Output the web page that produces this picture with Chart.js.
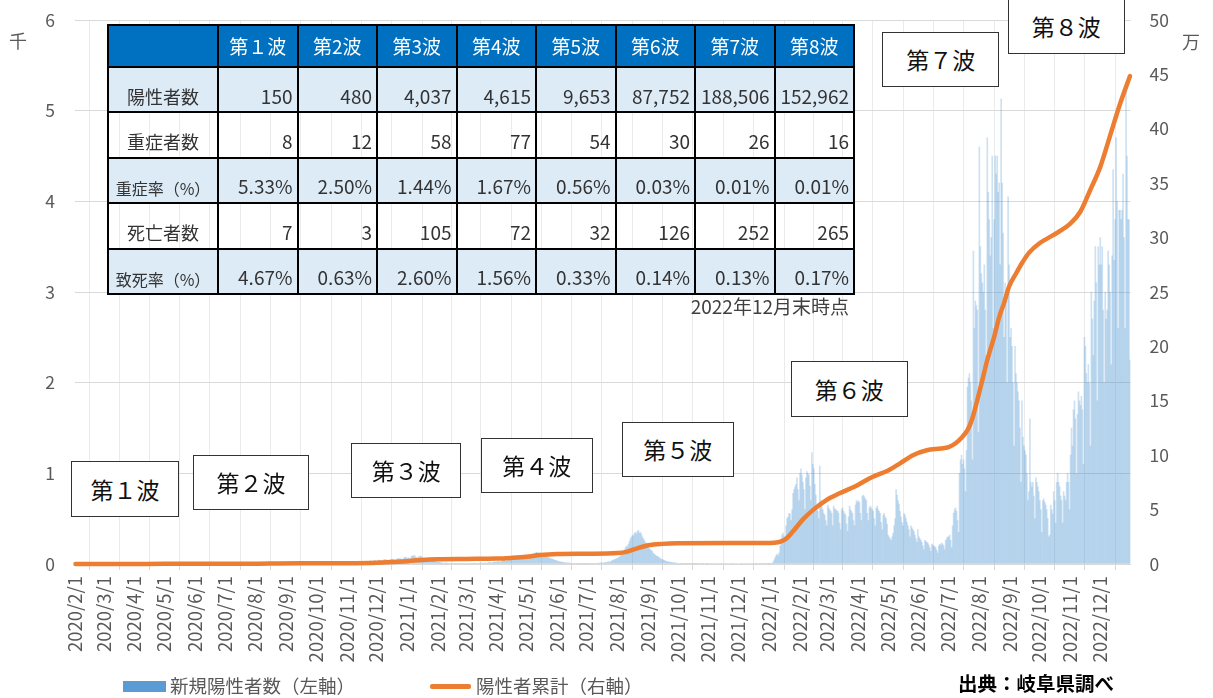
<!DOCTYPE html>
<html lang="ja"><head><meta charset="utf-8">
<script src="https://cdn.jsdelivr.net/npm/chart.js@4.4.1/dist/chart.umd.min.js"></script>
<style>
html,body{margin:0;padding:0;background:#fff;}
#wrap{position:relative;width:1213px;height:698px;overflow:hidden;font-family:'Noto Sans CJK JP','Noto Sans',sans-serif;}
#c{position:absolute;left:0;top:0;}
table.t{position:absolute;left:107px;top:24px;border-collapse:collapse;table-layout:fixed;width:747px;}
table.t td,table.t th{border:2px solid #000;padding:0 4px 3px 0;font-size:19px;font-weight:normal;color:#333;text-align:right;vertical-align:bottom;white-space:nowrap;overflow:hidden;line-height:1.3;}
table.t th{background:#0070C0;color:#fff;text-align:center;vertical-align:middle;padding:0;height:40px;}
table.t tr.b td{background:#DDEBF7;}
table.t td{height:40.4px;}
table.t td.h{text-align:center;font-size:18px;padding-right:0;}
table.t td.h.s{font-size:16px;}
.note{position:absolute;right:364px;top:296px;font-size:19px;color:#404040;line-height:1.1;}
.wave{position:absolute;box-sizing:border-box;border:1.5px solid #333;background:#fff;font-size:23px;color:#111;display:flex;align-items:center;justify-content:center;}
.unit{position:absolute;font-size:18px;color:#595959;line-height:1;}
.lg{position:absolute;font-size:18.5px;color:#595959;line-height:1;}
.src{position:absolute;left:958px;top:673px;font-size:19.5px;font-weight:bold;color:#000;line-height:1;}
</style></head>
<body><div id="wrap">
<canvas id="c" width="1213" height="698"></canvas>
<div class="unit" style="left:9px;top:31px;">千</div>
<div class="unit" style="left:1182px;top:32px;">万</div>
<table class="t" id="tbl"></table>
<div class="note">2022年12月末時点</div>
<div id="waves"></div>
<div style="position:absolute;left:123px;top:681px;width:43px;height:11px;background:#5B9BD5;"></div>
<div class="lg" style="left:170px;top:676px;">新規陽性者数（左軸）</div>
<div style="position:absolute;left:430px;top:684px;width:41px;height:4.5px;background:#ED7D31;border-radius:2px;"></div>
<div class="lg" style="left:476px;top:676px;">陽性者累計（右軸）</div>
<div class="src">出典：岐阜県調べ</div>
</div>
<script>
// ---- table data ----
const waveNames = ['第１波','第2波','第3波','第4波','第5波','第6波','第7波','第8波'];
const rowLabels = ['陽性者数','重症者数','重症率（%）','死亡者数','致死率（%）'];
const positives = ['150','480','4,037','4,615','9,653','87,752','188,506','152,962'];
const severe = ['8','12','58','77','54','30','26','16'];
const severeRate = ['5.33%','2.50%','1.44%','1.67%','0.56%','0.03%','0.01%','0.01%'];
const deaths = ['7','3','105','72','32','126','252','265'];
const deathRate = ['4.67%','0.63%','2.60%','1.56%','0.33%','0.14%','0.13%','0.17%'];
const waveBoxLabels = ['第１波','第２波','第３波','第４波','第５波','第６波','第７波','第８波'];

// ---- x axis tick labels ----
const monthLabels = ['2020/2/1','2020/3/1','2020/4/1','2020/5/1','2020/6/1','2020/7/1','2020/8/1','2020/9/1','2020/10/1','2020/11/1','2020/12/1',
 '2021/1/1','2021/2/1','2021/3/1','2021/4/1','2021/5/1','2021/6/1','2021/7/1','2021/8/1','2021/9/1','2021/10/1','2021/11/1','2021/12/1',
 '2022/1/1','2022/2/1','2022/3/1','2022/4/1','2022/5/1','2022/6/1','2022/7/1','2022/8/1','2022/9/1','2022/10/1','2022/11/1','2022/12/1'];
const axisEnd = '2023/1/1';

// ---- daily new positives (people), one array per month ----
const feb20=[0,0,0,0,0,0,0,0,0,0,0,0,0,0,0,0,0,0,0,0,0,0,0,0,0,1,0,1,0];
const mar20=[0,0,0,0,1,0,0,0,0,0,0,0,1,0,2,0,0,1,0,3,2,1,4,3,5,2,6,4,8,5,7];
const apr20=[9,6,8,7,10,5,4,6,8,5,3,2,4,3,2,1,2,1,0,1,1,0,1,0,0,1,0,0,0,0];
const may20=[0,1,0,0,0,0,0,1,0,0,0,0,0,0,0,0,0,0,0,0,0,0,0,0,0,0,0,0,0,0,0];
const jun20=[0,0,0,0,0,0,0,0,0,0,0,0,0,0,0,0,0,0,0,0,0,0,0,1,0,0,0,0,0,0];
const jul20=[0,0,0,0,0,0,0,0,0,0,1,0,0,0,0,0,2,1,3,2,4,5,6,3,8,10,9,12,15,14,18];
const aug20=[16,14,12,18,20,15,16,19,15,12,10,13,11,14,15,12,8,10,11,9,7,8,6,5,7,5,6,4,3,5,2];
const sep20=[4,2,3,5,2,1,3,2,1,2,0,3,1,2,1,0,2,1,0,1,2,0,1,0,1,0,2,1,0,1];
const oct20=[2,0,1,3,0,2,1,0,4,2,1,0,3,5,2,1,0,2,4,3,1,2,5,3,1,0,2,4,6,3,2];
const nov20=[5,3,8,10,6,4,12,9,7,15,18,14,10,8,20,22,18,25,30,28,24,20,26,32,35,30,28,34,40,25];
const dec20=[30,35,42,38,40,28,32,45,50,48,44,36,30,42,48,52,55,46,40,35,50,58,62,55,60,45,40,62,70,75,68];
const jan21=[60,72,55,50,85,90,88,95,80,70,65,75,82,90,78,70,60,55,62,58,50,45,40,35,38,32,30,25,28,22,18];
const feb21=[20,18,15,12,14,10,8,10,12,9,7,8,6,5,8,10,6,5,7,4,3,6,8,5,4,6,3,5];
const mar21=[4,6,3,5,8,6,4,3,7,9,5,6,4,8,10,12,9,7,11,14,10,8,12,15,18,14,10,16,20,22,18];
const apr21=[25,28,30,22,20,35,38,40,42,35,30,45,48,52,55,50,45,60,58,62,65,70,68,55,50,72,75,80,78,70];
const may21=[85,90,88,80,95,100,110,115,105,120,130,125,118,122,110,100,105,98,90,85,80,75,70,65,60,55,58,50,45,40,38];
const jun21=[35,30,28,25,22,20,18,15,14,12,10,12,9,8,10,7,6,8,5,6,4,5,7,3,4,6,5,3,4,5];
const jul21=[3,4,2,5,3,6,4,5,8,7,6,9,10,8,12,14,11,10,15,18,16,20,25,22,28,35,40,45,50,55,60];
const aug21=[65,70,80,90,110,120,140,160,180,200,190,220,250,280,300,320,310,340,350,330,360,370,340,350,330,300,280,260,240,230,210];
const sep21=[180,170,160,150,140,120,110,100,90,85,80,70,60,55,50,45,40,35,30,28,25,22,20,18,15,14,12,10,9,8];
const oct21=[7,6,5,8,4,6,3,5,4,2,3,5,2,1,3,2,4,1,2,3,1,2,0,1,2,3,1,0,2,1,2];
const nov21=[1,0,2,1,0,1,2,0,1,0,1,0,2,1,0,0,1,2,0,1,0,1,0,1,2,0,1,0,1,0];
const dec21=[0,1,0,2,1,0,1,0,1,2,0,1,1,0,2,1,0,1,2,1,0,2,3,2,1,4,5,3,6,8,10];
const jan22=[3,2,5,8,20,45,70,95,110,90,120,200,280,320,340,300,280,420,500,520,560,550,480,600,780,820,850,880,950,820,700];
const feb22=[1000,1050,980,900,820,600,950,1020,1000,980,860,700,1230,1100,1050,880,760,620,580,500,1080,700,640,600,560,540,480,420];
const mar22=[650,620,600,580,560,420,640,610,600,590,580,560,450,380,600,620,580,560,540,440,360,520,640,600,580,560,480,420,650,700,680];
const apr22=[700,680,560,480,750,760,740,720,700,560,480,620,640,620,600,580,500,420,620,640,600,580,560,460,380,540,560,520,500,440];
const may22=[320,300,280,260,300,340,420,500,820,760,700,660,580,520,460,420,560,540,500,460,420,380,300,420,400,380,360,320,280,240,380];
const jun22=[300,280,260,240,200,160,260,250,240,230,210,180,140,220,210,200,190,180,150,120,200,220,210,230,220,200,160,260,280,300];
const jul22=[300,320,260,180,420,560,600,620,580,480,350,1000,1150,1200,1100,1150,1050,800,1250,1950,2050,2100,2000,1800,1150,3450,2600,2900,2850,2800,1450];
const aug22=[4600,3500,3200,3100,3000,3300,2800,2300,4700,4100,3800,3400,3600,4500,2600,3800,4500,4300,4500,4100,4200,3300,5130,4200,3650,2500,3100,3000,2000,4050,3300];
const sep22=[2500,2600,2400,2000,1300,2400,2100,2000,1900,1800,1500,900,1800,1400,1300,1250,1200,1000,700,800,1600,900,850,900,750,500,950,900,850,800];
const oct22=[700,600,350,700,720,680,650,600,500,300,320,650,600,550,800,700,450,900,1000,900,850,750,700,450,800,750,700,900,1000,900,600];
const nov22=[1200,1500,1300,1700,1800,1600,1000,1650,1900,1800,1750,1850,1700,1100,2500,2400,2100,2000,2200,2000,1300,3000,2700,2300,2900,3500,3100,1800,3500,3300];
const dec22=[3600,3300,3500,2800,2000,3000,2700,2800,3450,3300,3000,2200,3400,4350,3350,3800,4700,4000,2600,3900,3900,3800,3900,4300,3600,2600,5250,4500,3800,3800,2250];

// ---- cumulative positives (万人) ----
const cumDates=['2020/2/1','2020/3/1','2020/4/1','2020/5/1','2020/7/15','2020/8/15','2020/9/15','2020/11/1','2020/12/1','2021/1/1','2021/1/15','2021/2/1','2021/3/1','2021/4/1','2021/4/15','2021/5/1','2021/5/15','2021/6/1','2021/7/1','2021/8/1','2021/8/10','2021/8/20','2021/9/1','2021/9/15','2021/10/1','2021/12/1','2022/1/1','2022/1/10','2022/1/17','2022/1/25','2022/2/4','2022/2/14','2022/2/28','2022/3/13','2022/3/30','2022/4/15','2022/5/1','2022/5/13','2022/5/26','2022/6/9','2022/6/23','2022/7/1','2022/7/8','2022/7/15','2022/7/20','2022/7/25','2022/7/30','2022/8/4','2022/8/9','2022/8/16','2022/8/21','2022/8/26','2022/8/31','2022/9/7','2022/9/14','2022/9/20','2022/10/1','2022/10/14','2022/11/1','2022/11/11','2022/11/21','2022/12/1','2022/12/11','2022/12/21','2022/12/31'];
const cumValues=[0,0,0.006,0.015,0.016,0.04,0.06,0.07,0.12,0.26,0.37,0.44,0.47,0.5,0.56,0.66,0.82,0.91,0.94,1.0,1.12,1.42,1.72,1.85,1.9,1.92,1.93,2.0,2.25,3.0,4.1,4.95,5.9,6.5,7.2,8.0,8.6,9.25,10.0,10.45,10.62,10.75,11.1,11.7,12.3,13.4,15.1,16.9,18.75,20.9,22.7,24.0,25.5,26.7,27.8,28.6,29.5,30.2,31.3,32.4,34.4,36.5,39.4,42.3,44.85];

function dayIndex(s){const [y,m,d]=s.split('/').map(Number);return Math.round((Date.UTC(y,m-1,d)-Date.UTC(2020,1,1))/864e5);}

// table
(function(){
  const t=document.getElementById('tbl');
  let h='<colgroup><col style="width:110px">'+waveNames.map(()=>'<col style="width:79.5px">').join('')+'</colgroup>';
  h+='<tr><th></th>'+waveNames.map(w=>'<th>'+w+'</th>').join('')+'</tr>';
  const rows=[positives,severe,severeRate,deaths,deathRate];
  rows.forEach((r,i)=>{
    const cls=(i%2===0)?' class="b"':'';
    const lc=(i===2||i===4)?'h s':'h';
    h+='<tr'+cls+'><td class="'+lc+'">'+rowLabels[i]+'</td>'+r.map(v=>'<td>'+v+'</td>').join('')+'</tr>';
  });
  t.innerHTML=h;
})();

// wave label boxes
(function(){
  const pos=[[70.7,461,108.6,55.7],[193.3,454.7,115.4,55.3],[351,442.7,110.3,55.6],[480.7,437.7,112,55.6],[621.7,421.7,112.3,55],[790.7,361,117.3,55.7],[882.3,31.7,117,55.6],[1007.7,-1.5,117.3,55.5]];
  const w=document.getElementById('waves');
  waveBoxLabels.forEach((l,i)=>{
    const d=document.createElement('div');d.className='wave';
    d.style.left=pos[i][0]+'px';d.style.top=pos[i][1]+'px';d.style.width=pos[i][2]+'px';d.style.height=pos[i][3]+'px';
    d.textContent=l;w.appendChild(d);
  });
})();

const monthArrays=[feb20,mar20,apr20,may20,jun20,jul20,aug20,sep20,oct20,nov20,dec20,jan21,feb21,mar21,apr21,may21,jun21,jul21,aug21,sep21,oct21,nov21,dec21,jan22,feb22,mar22,apr22,may22,jun22,jul22,aug22,sep22,oct22,nov22,dec22];
const dailyPoints=[];
monthArrays.forEach((arr,mi)=>{const s=dayIndex(monthLabels[mi]);arr.forEach((v,i)=>dailyPoints.push({x:s+i+0.5,y:v}));});
const linePoints=cumDates.map((d,i)=>({x:dayIndex(d)+0.5,y:cumValues[i]}));
const tickDays=monthLabels.map(dayIndex).concat([dayIndex(axisEnd)]);
const tickText=monthLabels.concat(['']);
const FONT="'Noto Sans CJK JP','Noto Sans',sans-serif";
const CLEAR='rgba(0,0,0,0)';

new Chart(document.getElementById('c'),{
  data:{datasets:[
    {type:'line',label:'陽性者累計（右軸）',data:linePoints,yAxisID:'y2',xAxisID:'x',borderColor:'#ED7D31',borderWidth:4.5,pointRadius:0,cubicInterpolationMode:'monotone',order:0,clip:6,borderCapStyle:'round',borderJoinStyle:'round'},
    {type:'bar',label:'新規陽性者数（左軸）',data:dailyPoints,yAxisID:'y',xAxisID:'x',backgroundColor:'rgba(91,155,213,0.3)',borderWidth:0,barPercentage:1,categoryPercentage:1,order:1}
  ]},
  options:{
    responsive:false,animation:false,devicePixelRatio:1,
    layout:{padding:{top:20,left:0,right:0,bottom:0}},
    plugins:{legend:{display:false},tooltip:{enabled:false}},
    scales:{
      x:{type:'linear',min:0,max:dayIndex(axisEnd),offset:false,
        afterBuildTicks:ax=>{ax.ticks=tickDays.map(v=>({value:v}));},
        afterFit:ax=>{ax.height=134;},
        ticks:{autoSkip:false,minRotation:90,maxRotation:90,padding:6,color:'#595959',font:{family:FONT,size:18.5},callback:(v,i)=>tickText[i]},
        grid:{color:'#EBEBEB',tickColor:'#D9D9D9',tickLength:6,drawTicks:true},
        border:{display:true,color:'#D9D9D9',width:1}},
      y:{position:'left',min:0,max:6000,
        afterFit:ax=>{ax.width=75;},
        ticks:{stepSize:1000,padding:0,color:'#595959',font:{family:FONT,size:17.5},callback:v=>String(v/1000)},
        grid:{color:'#D9D9D9',drawTicks:true,tickLength:20,tickColor:CLEAR},border:{display:false}},
      y2:{position:'right',min:0,max:50,
        afterFit:ax=>{ax.width=82.5;},
        ticks:{stepSize:5,padding:0,color:'#595959',font:{family:FONT,size:17.5}},
        grid:{display:true,drawOnChartArea:false,drawTicks:true,tickLength:19,tickColor:CLEAR,color:CLEAR},border:{display:false}}
    }
  }
});
</script>
</body></html>
